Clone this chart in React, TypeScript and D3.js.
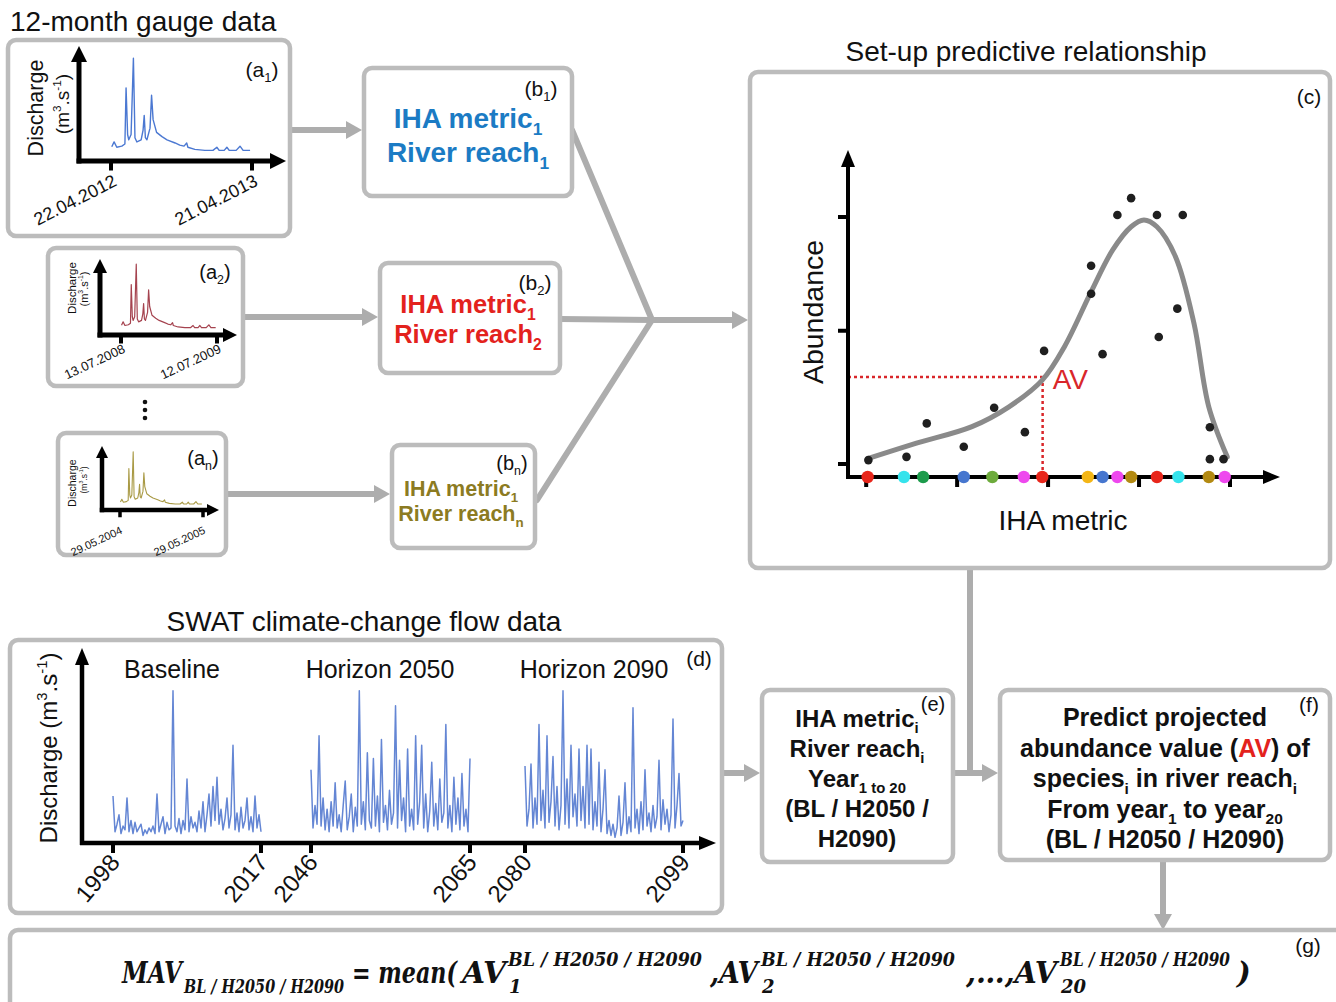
import React from 'react';
import * as d3 from 'd3';

// ---------------- DATA ----------------
// 12-month gauge hydrograph (day of record, discharge index)
const gaugeDays = [2, 8, 15, 28, 36, 39, 43, 46, 52, 58, 62, 67, 78, 83, 86, 89, 93, 101, 105, 109, 118, 132, 145, 166, 178, 189, 196, 199, 217, 243, 264, 274, 280, 293, 300, 306, 324, 334, 342, 360];
const gaugeFlow = [13.5, 18, 13, 14, 16, 69, 25, 20, 25, 97, 22, 18, 20, 29, 43, 22, 20, 31, 62, 39, 27, 23, 20, 17, 15, 14, 17, 13, 11, 10, 10, 13, 10, 10, 13, 10, 10, 14, 10, 10];
const gaugeIds = ['1', '2', 'n'];
const gaugeStart = ['22.04.2012', '13.07.2008', '29.05.2004'];
const gaugeEnd = ['21.04.2013', '12.07.2009', '29.05.2005'];
const gaugeColors = ['#4b78d2', '#a5434f', '#a99a45'];

// IHA metric boxes
const reachIds = ['1', '2', 'n'];
const reachColors = ['#1b7bc4', '#e3221d', '#8c7b22'];

// Predictive relationship: observed (IHA metric, abundance)
const obsMetric = [1.024, 1.443, 1.666, 2.073, 2.407, 2.745, 2.956, 3.473, 3.473, 3.599, 3.762, 3.913, 4.197, 4.217, 4.421, 4.481, 4.779, 4.779, 4.929];
const obsAbund = [5.2, 6.2, 16.5, 9.3, 21.3, 13.8, 38.8, 65.0, 56.4, 37.8, 80.6, 85.8, 80.6, 43.1, 51.8, 80.6, 15.3, 5.5, 5.5];
// fitted curve
const fitMetric = [1.024, 1.553, 2.163, 2.570, 2.936, 3.180, 3.465, 3.709, 3.913, 4.054, 4.197, 4.401, 4.604, 4.767, 4.970];
const fitAbund = [5.75, 10.4, 15.5, 21.6, 29.8, 40.1, 56.5, 69.8, 77.0, 79.1, 77.0, 67.8, 47.3, 21.6, 6.2];
// metric values of river reaches (coloured points on axis)
const reachMetric = [1.016, 1.415, 1.626, 2.073, 2.387, 2.733, 2.936, 3.437, 3.599, 3.762, 3.913, 4.197, 4.433, 4.767, 4.942];
const reachMetricColors = ['#e8261b', '#35e3ec', '#1c9b4b', '#4676cf', '#6dab3c', '#ee48ee', '#e8261b', '#f4b616', '#4676cf', '#ee48ee', '#b38a12', '#e8261b', '#35e3ec', '#b38a12', '#ee48ee'];
const metricTicks = [1, 2, 3, 4, 5];
const abundTicks = [4, 45, 80];
const avMetric = 2.94;
const avAbund = 30.8;

// SWAT simulated discharge
const periodNames = ['Baseline', 'Horizon 2050', 'Horizon 2090'];
const periodStart = [1998, 2046, 2080];
const periodEnd = [2017, 2065, 2099];
const flowBaseline = [25, 6, 10, 15, 5, 9, 7, 24, 6, 12, 5, 11, 6, 8, 10, 4, 7, 5, 8, 6, 9, 5, 26, 6, 10, 14, 5, 11, 7, 8, 81, 9, 6, 13, 5, 12, 7, 34, 6, 14, 8, 11, 6, 17, 8, 22, 6, 15, 26, 9, 30, 12, 35, 10, 18, 7, 13, 24, 8, 15, 52, 7, 16, 6, 19, 8, 12, 24, 7, 14, 6, 25, 8, 15, 6];
const flow2050 = [39, 8, 20, 10, 57, 9, 24, 7, 18, 6, 22, 9, 32, 8, 15, 6, 20, 33, 7, 14, 26, 6, 19, 9, 81, 10, 22, 7, 48, 12, 8, 45, 9, 25, 6, 55, 11, 20, 7, 28, 10, 16, 73, 8, 44, 12, 24, 6, 50, 9, 18, 7, 57, 10, 22, 52, 8, 26, 6, 17, 43, 9, 21, 7, 34, 11, 16, 63, 8, 20, 6, 35, 10, 24, 7, 37, 9, 18, 6, 45];
const flow2090 = [41, 9, 18, 42, 8, 24, 10, 63, 12, 28, 8, 57, 11, 22, 46, 9, 30, 7, 20, 81, 10, 34, 8, 52, 14, 26, 9, 50, 12, 30, 8, 52, 10, 50, 7, 22, 9, 43, 6, 18, 39, 5, 12, 4, 10, 3, 8, 25, 4, 11, 32, 5, 14, 6, 72, 8, 18, 5, 22, 7, 39, 9, 16, 6, 20, 8, 14, 44, 7, 23, 10, 18, 6, 15, 66, 8, 20, 37, 9, 12];
const periodFlows = [flowBaseline, flow2050, flow2090];

// formula pieces
const scenarioLabel = 'BL / H2050 / H2090';
const yearIndexLabels = ['1', '2', '20'];

// ---------------- STYLE ----------------
const SANS = "'Liberation Sans', Arial, Helvetica, sans-serif";
const MATH = "'DejaVu Serif', 'Liberation Serif', serif";
const BOX = '#bcbcbc';
const ARROW = '#adadad';

type Seg = { t: string; sub?: boolean; sup?: boolean; fill?: string };

function Rich(props: { x: number; y: number; segs: Seg[]; size: number; anchor?: string; weight?: string; fill?: string; transform?: string; family?: string }) {
  const { x, y, segs, size, anchor = 'start', weight = 'normal', fill = '#111', transform, family = SANS } = props;
  let cur = 0;
  const spans = segs.map((s, i) => {
    const target = s.sub ? size * 0.26 : s.sup ? -size * 0.42 : 0;
    const dy = target - cur;
    cur = target;
    return (
      <tspan key={i} dy={dy !== 0 ? dy : undefined} fontSize={s.sub || s.sup ? size * 0.62 : size} fill={s.fill}>
        {s.t}
      </tspan>
    );
  });
  return (
    <text x={x} y={y} fontFamily={family} fontSize={size} fontWeight={weight} fill={fill} textAnchor={anchor} transform={transform}>
      {spans}
    </text>
  );
}

function Arrow(p: { x1: number; y1: number; x2: number; y2: number; color?: string; width?: number; head?: number; half?: number }) {
  const { x1, y1, x2, y2, color = ARROW, width = 6, head = 16, half = 9 } = p;
  const dx = x2 - x1, dy = y2 - y1, len = Math.hypot(dx, dy);
  const ux = dx / len, uy = dy / len;
  const bx = x2 - ux * head, by = y2 - uy * head;
  const px = -uy, py = ux;
  return (
    <g>
      <line x1={x1} y1={y1} x2={bx + ux} y2={by + uy} stroke={color} strokeWidth={width} />
      <polygon points={`${x2},${y2} ${bx + px * half},${by + py * half} ${bx - px * half},${by - py * half}`} fill={color} />
    </g>
  );
}

function Box({ b }: { b: number[] }) {
  return <rect x={b[0]} y={b[1]} width={b[2]} height={b[3]} rx={8} fill="#fff" stroke={BOX} strokeWidth={4.5} />;
}

const gaugeLayouts = [
  { box: [8, 40, 282, 196], ox: 79, oy: 161, yTip: 46, xTip: 286, t0: 111, t1: 252, yTop: 55, axisW: 5, head: 16, half: 8, tick: [4, 7],
    lab: { x: 262, y: 77, size: 21 }, dis: { x: 43, y: 108, size: 21.5 }, unit: { x: 69, y: 104, size: 19 }, dates: { size: 18, y: 185, dx: 7, rot: -27 }, lw: 1.4 },
  { box: [48, 248, 195, 138], ox: 100, oy: 335, yTip: 259, xTip: 237, t0: 121, t1: 217, yTop: 262, axisW: 5, head: 14, half: 7, tick: [4, 6],
    lab: { x: 215, y: 279, size: 20 }, dis: { x: 76, y: 288, size: 11.5 }, unit: { x: 88, y: 289, size: 11 }, dates: { size: 13, y: 352, dx: 5, rot: -25 }, lw: 1.2 },
  { box: [58, 433, 168, 122], ox: 102, oy: 510, yTip: 446, xTip: 219, t0: 120, t1: 203, yTop: 450, axisW: 4.5, head: 12, half: 6, tick: [3.5, 5],
    lab: { x: 203, y: 465, size: 20 }, dis: { x: 76, y: 483, size: 10.5 }, unit: { x: 87, y: 480, size: 8.5 }, dates: { size: 11, y: 533, dx: 3, rot: -25 }, lw: 1.1 },
];

function Gauge({ i }: { i: number }) {
  const L = gaugeLayouts[i];
  const x = d3.scaleLinear().domain([0, 365]).range([L.t0, L.t1]);
  const y = d3.scaleLinear().domain([0, 100]).range([L.oy, L.yTop]);
  const line = d3.line<number>().x((_, k) => x(gaugeDays[k])).y((v) => y(v));
  return (
    <g>
      <Box b={L.box} />
      <path d={line(gaugeFlow) || ''} fill="none" stroke={gaugeColors[i]} strokeWidth={L.lw} strokeLinejoin="round" />
      <Arrow x1={L.ox} y1={L.oy + L.axisW / 2} x2={L.ox} y2={L.yTip} color="#000" width={L.axisW} head={L.head} half={L.half} />
      <Arrow x1={L.ox - L.axisW / 2} y1={L.oy} x2={L.xTip} y2={L.oy} color="#000" width={L.axisW} head={L.head} half={L.half} />
      {[L.t0, L.t1].map((t, k) => (
        <rect key={k} x={t - L.tick[0] / 2} y={L.oy} width={L.tick[0]} height={L.axisW / 2 + L.tick[1]} fill="#000" />
      ))}
      {[gaugeStart[i], gaugeEnd[i]].map((s, k) => {
        const tx = (k === 0 ? L.t0 : L.t1) + L.dates.dx;
        return (
          <text key={k} x={0} y={0} transform={`translate(${tx},${L.dates.y}) rotate(${L.dates.rot})`} textAnchor="end" fontFamily={SANS} fontSize={L.dates.size} fill="#111">
            {s}
          </text>
        );
      })}
      <text transform={`translate(${L.dis.x},${L.dis.y}) rotate(-90)`} textAnchor="middle" fontFamily={SANS} fontSize={L.dis.size} fill="#111">Discharge</text>
      <Rich x={0} y={0} transform={`translate(${L.unit.x},${L.unit.y}) rotate(-90)`} anchor="middle" size={L.unit.size}
        segs={[{ t: '(m' }, { t: '3', sup: true }, { t: '.s' }, { t: '-1', sup: true }, { t: ')' }]} />
      <Rich x={L.lab.x} y={L.lab.y} anchor="middle" size={L.lab.size} segs={[{ t: '(a' }, { t: gaugeIds[i], sub: true }, { t: ')' }]} />
    </g>
  );
}

const reachLayouts = [
  { box: [364, 68, 208, 128], cx: 468, y1: 128, y2: 162, size: 28, lab: { x: 541, y: 96, size: 21 } },
  { box: [380, 263, 180, 110], cx: 468, y1: 313, y2: 343, size: 25.5, lab: { x: 535, y: 290, size: 21 } },
  { box: [392, 445, 143, 103], cx: 461, y1: 496, y2: 521, size: 21.5, lab: { x: 512, y: 470, size: 20 } },
];

function Reach({ i }: { i: number }) {
  const L = reachLayouts[i];
  return (
    <g>
      <Box b={L.box} />
      <Rich x={L.cx} y={L.y1} anchor="middle" size={L.size} weight="bold" fill={reachColors[i]} segs={[{ t: 'IHA metric' }, { t: '1', sub: true }]} />
      <Rich x={L.cx} y={L.y2} anchor="middle" size={L.size} weight="bold" fill={reachColors[i]} segs={[{ t: 'River reach' }, { t: reachIds[i], sub: true }]} />
      <Rich x={L.lab.x} y={L.lab.y} anchor="middle" size={L.lab.size} segs={[{ t: '(b' }, { t: reachIds[i], sub: true }, { t: ')' }]} />
    </g>
  );
}

function Relationship() {
  const xS = d3.scaleLinear().domain([0.8, 5.55]).range([848, 1280]);
  const yS = d3.scaleLinear().domain([0, 100]).range([477, 152]);
  const fit = d3.line<number>().x((v) => xS(v)).y((_, k) => yS(fitAbund[k])).curve(d3.curveCatmullRom.alpha(0.5));
  const ox = xS(0.8), oy = yS(0);
  return (
    <g>
      <Box b={[750, 72, 580, 496]} />
      <text x={1026} y={61} textAnchor="middle" fontFamily={SANS} fontSize={28} fill="#111">Set-up predictive relationship</text>
      <text x={1309} y={104} textAnchor="middle" fontFamily={SANS} fontSize={21} fill="#111">(c)</text>
      {/* AV guides */}
      <line x1={ox} y1={yS(avAbund)} x2={xS(avMetric)} y2={yS(avAbund)} stroke="#d9262a" strokeWidth={2.5} strokeDasharray="3,3" />
      <line x1={xS(avMetric)} y1={yS(avAbund)} x2={xS(avMetric)} y2={oy} stroke="#d9262a" strokeWidth={2.5} strokeDasharray="3,3" />
      <text x={xS(avMetric) + 10} y={yS(avAbund) + 12} fontFamily={SANS} fontSize={28} fill="#d9262a">AV</text>
      {/* axes */}
      <Arrow x1={ox} y1={oy + 2} x2={ox} y2={150} color="#000" width={4} head={17} half={7} />
      <Arrow x1={ox - 2} y1={oy} x2={1280} y2={oy} color="#000" width={4} head={17} half={7} />
      {metricTicks.map((t) => (
        <line key={t} x1={xS(t)} x2={xS(t)} y1={oy} y2={oy + 10} stroke="#000" strokeWidth={4} />
      ))}
      {abundTicks.map((t) => (
        <line key={t} x1={ox - 10} x2={ox} y1={yS(t)} y2={yS(t)} stroke="#000" strokeWidth={4} />
      ))}
      <path d={fit(fitMetric) || ''} fill="none" stroke="#8a8a8a" strokeWidth={5} strokeLinecap="round" />
      {obsMetric.map((m, k) => (
        <circle key={k} cx={xS(m)} cy={yS(obsAbund[k])} r={4.3} fill="#1f1f1f" />
      ))}
      {reachMetric.map((m, k) => (
        <circle key={k} cx={xS(m)} cy={oy} r={6.2} fill={reachMetricColors[k]} />
      ))}
      <text transform="translate(823,312) rotate(-90)" textAnchor="middle" fontFamily={SANS} fontSize={28.5} fill="#111">Abundance</text>
      <text x={1063} y={530} textAnchor="middle" fontFamily={SANS} fontSize={28} fill="#111">IHA metric</text>
    </g>
  );
}

const periodRanges = [[113, 261], [311, 470], [525, 683]];
const periodLabelX = [172, 380, 594];

function Swat() {
  const yS = d3.scaleLinear().domain([0, 100]).range([843, 655]);
  return (
    <g>
      <Box b={[10, 640, 712, 273]} />
      <text x={364} y={631} textAnchor="middle" fontFamily={SANS} fontSize={28} fill="#111">SWAT climate-change flow data</text>
      <text x={699} y={666} textAnchor="middle" fontFamily={SANS} fontSize={21} fill="#111">(d)</text>
      {periodFlows.map((f, p) => {
        const xS = d3.scaleLinear().domain([0, f.length - 1]).range(periodRanges[p]);
        const line = d3.line<number>().x((_, k) => xS(k)).y((v) => yS(v));
        return <path key={p} d={line(f) || ''} fill="none" stroke="#5379cf" strokeWidth={1.5} strokeOpacity={0.9} strokeLinejoin="round" />;
      })}
      <Arrow x1={82} y1={845} x2={82} y2={648} color="#000" width={4.5} head={17} half={7} />
      <Arrow x1={80} y1={843} x2={716} y2={843} color="#000" width={4.5} head={17} half={7} />
      {periodRanges.map((r, p) =>
        [0, 1].map((k) => {
          const tx = r[k];
          const yr = k === 0 ? periodStart[p] : periodEnd[p];
          return (
            <g key={`${p}-${k}`}>
              <line x1={tx} x2={tx} y1={843} y2={853} stroke="#000" strokeWidth={4} />
              <text transform={`translate(${tx + 8},${863}) rotate(-50)`} textAnchor="end" fontFamily={SANS} fontSize={24} fill="#111">{yr}</text>
            </g>
          );
        })
      )}
      {periodNames.map((n, p) => (
        <text key={n} x={periodLabelX[p]} y={678} textAnchor="middle" fontFamily={SANS} fontSize={25} fill="#111">{n}</text>
      ))}
      <Rich x={0} y={0} transform="translate(57,748) rotate(-90)" anchor="middle" size={24}
        segs={[{ t: 'Discharge (m' }, { t: '3', sup: true }, { t: '.s' }, { t: '-1', sup: true }, { t: ')' }]} />
    </g>
  );
}

function Outputs() {
  const eLines: Seg[][] = [
    [{ t: 'IHA metric' }, { t: 'i', sub: true }],
    [{ t: 'River reach' }, { t: 'i', sub: true }],
    [{ t: 'Year' }, { t: '1 to 20', sub: true }],
    [{ t: '(BL / H2050 /' }],
    [{ t: 'H2090)' }],
  ];
  const fLines: Seg[][] = [
    [{ t: 'Predict projected' }],
    [{ t: 'abundance value (' }, { t: 'AV', fill: '#e3221d' }, { t: ') of' }],
    [{ t: 'species' }, { t: 'i', sub: true }, { t: ' in river reach' }, { t: 'i', sub: true }],
    [{ t: 'From year' }, { t: '1', sub: true }, { t: ' to year' }, { t: '20', sub: true }],
    [{ t: '(BL / H2050 / H2090)' }],
  ];
  return (
    <g>
      <Box b={[762, 690, 191, 172]} />
      {eLines.map((s, k) => (
        <Rich key={k} x={857} y={727 + k * 30} anchor="middle" size={24} weight="bold" segs={s} />
      ))}
      <text x={933} y={711} textAnchor="middle" fontFamily={SANS} fontSize={20} fill="#111">(e)</text>
      <Box b={[1000, 690, 330, 170]} />
      {fLines.map((s, k) => (
        <Rich key={k} x={1165} y={726 + k * 30.5} anchor="middle" size={25} weight="bold" segs={s} />
      ))}
      <text x={1309} y={712} textAnchor="middle" fontFamily={SANS} fontSize={21} fill="#111">(f)</text>
    </g>
  );
}

function Formula() {
  const F = { fontFamily: MATH, fontWeight: 'bold', fontStyle: 'italic', fill: '#111' } as const;
  const big = 29, small = 18;
  const by = 983, supY = 966, subY = 993;
  const terms = [
    { lead: ',AV', leadX: 0, supW: 194 },
    { lead: ',AV', leadX: 710, supW: 194 },
    { lead: ',…,AV', leadX: 966, supW: 170 },
  ];
  const supX = [508, 761, 1060];
  return (
    <g>
      <rect x={10} y={930} width={1340} height={100} rx={8} fill="#fff" stroke={BOX} strokeWidth={4.5} />
      <text x={1308} y={953} textAnchor="middle" fontFamily={SANS} fontSize={21} fill="#111">(g)</text>
      <text x={122} y={by} fontSize={big} textLength={60} lengthAdjust="spacingAndGlyphs" {...F}>MAV</text>
      <text x={184} y={subY} fontSize={small} textLength={160} lengthAdjust="spacingAndGlyphs" {...F}>{scenarioLabel}</text>
      <text x={352} y={by} fontSize={big} textLength={105} lengthAdjust="spacingAndGlyphs" {...F}>= mean(</text>
      <text x={462} y={by} fontSize={big} textLength={44} lengthAdjust="spacingAndGlyphs" {...F}>AV</text>
      {terms.map((t, k) => (
        <g key={k}>
          {k > 0 && (
            <text x={t.leadX} y={by} fontSize={big} textLength={supX[k] - t.leadX - 3} lengthAdjust="spacingAndGlyphs" {...F}>{t.lead}</text>
          )}
          <text x={supX[k]} y={supY} fontSize={small} textLength={t.supW} lengthAdjust="spacingAndGlyphs" {...F}>{scenarioLabel}</text>
          <text x={supX[k] + 1} y={subY} fontSize={small} {...F}>{yearIndexLabels[k]}</text>
        </g>
      ))}
      <text x={1237} y={by} fontSize={big} {...F}>)</text>
    </g>
  );
}

export default function App() {
  return (
    <svg width={1336} height={1002} viewBox="0 0 1336 1002" style={{ position: 'absolute', left: 0, top: 0, background: '#fff' }} xmlns="http://www.w3.org/2000/svg">
      <rect x={0} y={0} width={1336} height={1002} fill="#fff" />
      <text x={10} y={31} fontFamily={SANS} fontSize={28} fill="#111">12-month gauge data</text>
      {/* arrows from gauges to metrics */}
      <Arrow x1={292} y1={130} x2={362} y2={130} />
      <Arrow x1={243} y1={317} x2={378} y2={317} />
      <Arrow x1={226} y1={494} x2={390} y2={494} />
      {/* converging lines */}
      <line x1={572} y1={130} x2={652} y2={320} stroke={ARROW} strokeWidth={6} strokeLinecap="round" />
      <line x1={560} y1={319} x2={652} y2={320} stroke={ARROW} strokeWidth={6} />
      <line x1={537} y1={500} x2={652} y2={320} stroke={ARROW} strokeWidth={6} strokeLinecap="round" />
      <Arrow x1={650} y1={320} x2={748} y2={320} />
      {/* c -> f connector */}
      <line x1={970} y1={570} x2={970} y2={773} stroke={ARROW} strokeWidth={6} />
      <Arrow x1={953} y1={773} x2={998} y2={773} />
      <Arrow x1={722} y1={773} x2={760} y2={773} />
      <Arrow x1={1163} y1={862} x2={1163} y2={930} />
      {[0, 1, 2].map((i) => <Gauge key={i} i={i} />)}
      {[0, 1, 2].map((i) => <Reach key={i} i={i} />)}
      {[402, 410, 418].map((cy) => <circle key={cy} cx={145} cy={cy} r={2.3} fill="#111" />)}
      <Relationship />
      <Swat />
      <Outputs />
      <Formula />
    </svg>
  );
}
